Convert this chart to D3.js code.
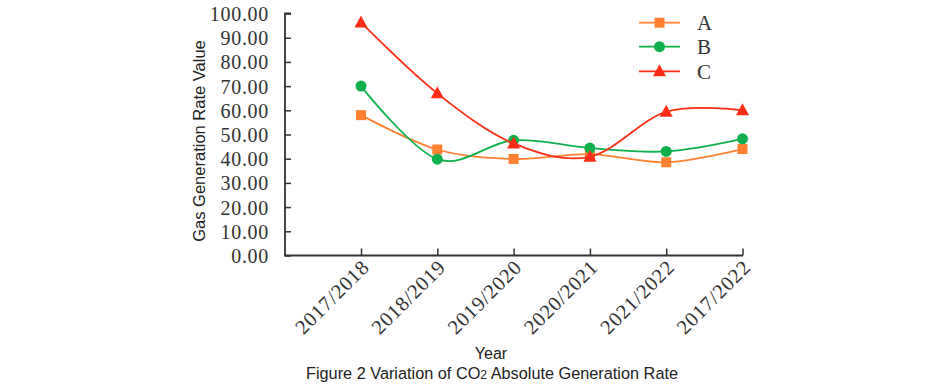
<!DOCTYPE html>
<html>
<head>
<meta charset="utf-8">
<script src="https://cdn.jsdelivr.net/npm/d3@7"></script>
<style>
  html, body { margin: 0; padding: 0; background: #fff; }
  svg { display: block; }
</style>
</head>
<body>
<svg id="chart" width="945" height="389"></svg>
<script>
const categories = ["2017/2018", "2018/2019", "2019/2020", "2020/2021", "2021/2022", "2017/2022"];
const seriesA = [58.0, 43.8, 39.9, 41.9, 38.5, 44.0];
const seriesB = [70.0, 39.8, 47.6, 44.4, 43.0, 48.2];
const seriesC = [96.3, 67.0, 46.3, 40.8, 59.4, 60.0];
const seriesNames = ["A", "B", "C"];
const yTicks = [0, 10, 20, 30, 40, 50, 60, 70, 80, 90, 100];

const colors = { A: "#ff8030", B: "#0db04b", C: "#ff2d16" };
const series = [
  { name: "A", values: seriesA, marker: "square" },
  { name: "B", values: seriesB, marker: "circle" },
  { name: "C", values: seriesC, marker: "triangle" }
];

const svg = d3.select("#chart");
const axisColor = "#333";
const axisLeftX = 285, axisRightX = 743, yTop = 13.5, yBottom = 255.5;

const x = d3.scalePoint().domain(categories).range([361, 742.5]);
const y = d3.scaleLinear().domain([0, 100]).range([yBottom, yTop]);

// Y axis
const yAxis = svg.append("g")
  .attr("transform", `translate(${axisLeftX},0)`)
  .call(d3.axisLeft(y).tickValues(yTicks).tickSize(-6).tickPadding(16).tickFormat(d3.format(".2f")));
yAxis.select(".domain").remove();
yAxis.selectAll(".tick line").attr("stroke", axisColor).attr("stroke-width", 1.5);
yAxis.selectAll(".tick text")
  .attr("font-family", "'Liberation Serif', 'Times New Roman', serif")
  .attr("font-size", 20).attr("letter-spacing", 0.7)
  .attr("fill", "#333").attr("dy", "0.35em");

// X axis
const xAxis = svg.append("g")
  .attr("transform", `translate(0,${yBottom})`)
  .call(d3.axisBottom(x).tickSize(-7).tickPadding(0));
xAxis.select(".domain").remove();
xAxis.selectAll(".tick line").attr("stroke", axisColor).attr("stroke-width", 1.5);
xAxis.selectAll(".tick text")
  .attr("font-family", "'Liberation Serif', 'Times New Roman', serif")
  .attr("font-size", 20.5).attr("letter-spacing", 0.8)
  .attr("fill", "#333")
  .attr("text-anchor", "end")
  .attr("dy", null).attr("y", null)
  .attr("transform", "translate(9,13) rotate(-45)");

// Axis lines
svg.append("path")
  .attr("d", `M${axisLeftX + 6},${yTop} H${axisLeftX} V${yBottom} H${axisRightX}`)
  .attr("fill", "none").attr("stroke", axisColor).attr("stroke-width", 1.8);

// Lines
const line = d3.line()
  .x((d, i) => x(categories[i]))
  .y(d => y(d))
  .curve(d3.curveCardinal.tension(0));

function drawMarker(g, type, cx, cy, color) {
  if (type === "square") {
    g.append("rect").attr("x", cx - 5).attr("y", cy - 5).attr("width", 10).attr("height", 10).attr("fill", color);
  } else if (type === "circle") {
    g.append("circle").attr("cx", cx).attr("cy", cy).attr("r", 5.5).attr("fill", color);
  } else {
    g.append("path").attr("d", `M${cx},${cy - 7} L${cx + 6.5},${cy + 5} L${cx - 6.5},${cy + 5} Z`).attr("fill", color);
  }
}

series.forEach(s => {
  const color = colors[s.name];
  svg.append("path").datum(s.values)
    .attr("d", line).attr("fill", "none").attr("stroke", color).attr("stroke-width", 1.8);
  const g = svg.append("g");
  s.values.forEach((v, i) => drawMarker(g, s.marker, x(categories[i]), y(v), color));
});

// Legend
const legendY = [22.7, 46.7, 71.3];
series.forEach((s, i) => {
  const color = colors[s.name];
  const g = svg.append("g");
  g.append("line").attr("x1", 639).attr("x2", 680).attr("y1", legendY[i]).attr("y2", legendY[i])
    .attr("stroke", color).attr("stroke-width", 1.8);
  drawMarker(g, s.marker, 659.5, legendY[i], color);
  g.append("text").attr("x", 697).attr("y", legendY[i]).attr("dy", "0.35em")
    .attr("font-family", "'Liberation Serif', 'Times New Roman', serif")
    .attr("font-size", 21).attr("fill", "#333").text(seriesNames[i]);
});

// Y axis title
svg.append("text")
  .attr("transform", "translate(205,141) rotate(-90)")
  .attr("text-anchor", "middle")
  .attr("font-family", "'Liberation Sans', Arial, sans-serif")
  .attr("font-size", 16.5).attr("fill", "#222")
  .text("Gas Generation Rate Value");

// X axis title
svg.append("text")
  .attr("x", 491).attr("y", 359)
  .attr("text-anchor", "middle")
  .attr("font-family", "'Liberation Sans', Arial, sans-serif")
  .attr("font-size", 16).attr("fill", "#222")
  .text("Year");

// Caption
const cap = svg.append("text")
  .attr("x", 492).attr("y", 379)
  .attr("text-anchor", "middle")
  .attr("font-family", "'Liberation Sans', Arial, sans-serif")
  .attr("font-size", 16.3).attr("fill", "#222");
cap.append("tspan").text("Figure 2 Variation of CO");
cap.append("tspan").attr("font-size", 12).text("2");
cap.append("tspan").text(" Absolute Generation Rate");
</script>
</body>
</html>
